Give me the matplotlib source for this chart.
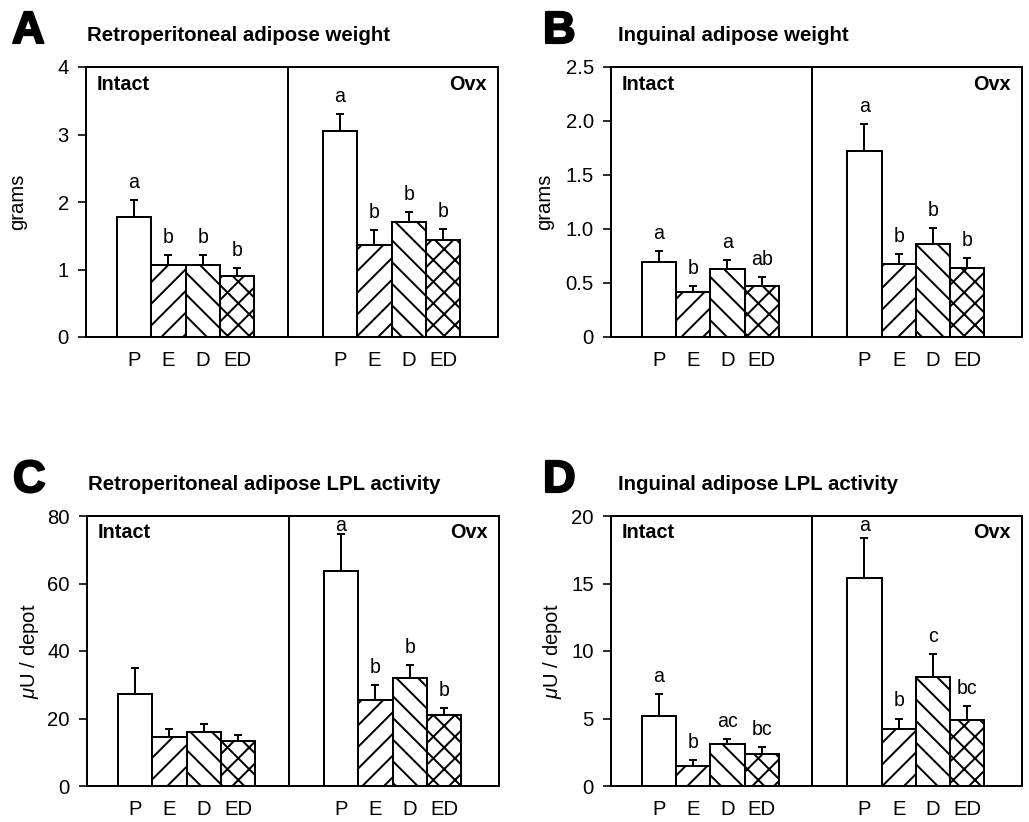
import matplotlib
matplotlib.use("Agg")
import matplotlib.pyplot as plt
import matplotlib.patheffects as pe
import numpy as np

plt.rcParams['font.family'] = ['Liberation Sans', 'DejaVu Sans']
plt.rcParams['mathtext.fontset'] = 'custom'
plt.rcParams['mathtext.rm'] = 'Liberation Sans'
plt.rcParams['mathtext.it'] = 'Liberation Sans:italic'
plt.rcParams['hatch.linewidth'] = 1.1

# ---------------- data ----------------
groups = ["P", "E", "D", "ED"]
panel_letters = ["A", "B", "C", "D"]
titles = ["Retroperitoneal adipose weight", "Inguinal adipose weight",
          "Retroperitoneal adipose LPL activity", "Inguinal adipose LPL activity"]
ylabels = ["grams", "grams", r"$\mu$U / depot", r"$\mu$U / depot"]

a_intact = [1.78, 1.06, 1.07, 0.90]
a_intact_sem = [0.25, 0.16, 0.15, 0.12]
a_ovx = [3.05, 1.36, 1.70, 1.43]
a_ovx_sem = [0.26, 0.22, 0.15, 0.17]
a_intact_sig = ["a", "b", "b", "b"]
a_ovx_sig = ["a", "b", "b", "b"]

b_intact = [0.69, 0.42, 0.63, 0.47]
b_intact_sem = [0.11, 0.05, 0.08, 0.09]
b_ovx = [1.72, 0.68, 0.86, 0.64]
b_ovx_sem = [0.25, 0.09, 0.15, 0.09]
b_intact_sig = ["a", "b", "a", "ab"]
b_ovx_sig = ["a", "b", "b", "b"]

c_intact = [27.2, 14.5, 16.1, 13.4]
c_intact_sem = [7.8, 2.3, 2.3, 1.6]
c_ovx = [63.7, 25.5, 32.1, 21.0]
c_ovx_sem = [11.0, 4.4, 3.7, 2.2]
c_intact_sig = ["", "", "", ""]
c_ovx_sig = ["a", "b", "b", "b"]

d_intact = [5.2, 1.5, 3.1, 2.4]
d_intact_sem = [1.6, 0.4, 0.4, 0.5]
d_ovx = [15.4, 4.2, 8.1, 4.9]
d_ovx_sem = [3.0, 0.8, 1.7, 1.0]
d_intact_sig = ["a", "b", "ac", "bc"]
d_ovx_sig = ["a", "b", "c", "bc"]

yticks_a = [0, 1, 2, 3, 4]
ytick_labels_a = ["0", "1", "2", "3", "4"]
yticks_b = [0, 0.5, 1.0, 1.5, 2.0, 2.5]
ytick_labels_b = ["0", "0.5", "1.0", "1.5", "2.0", "2.5"]
yticks_c = [0, 20, 40, 60, 80]
ytick_labels_c = ["0", "20", "40", "60", "80"]
yticks_d = [0, 5, 10, 15, 20]
ytick_labels_d = ["0", "5", "10", "15", "20"]

panels = [
    (a_intact, a_intact_sem, a_ovx, a_ovx_sem, a_intact_sig, a_ovx_sig, yticks_a, ytick_labels_a),
    (b_intact, b_intact_sem, b_ovx, b_ovx_sem, b_intact_sig, b_ovx_sig, yticks_b, ytick_labels_b),
    (c_intact, c_intact_sem, c_ovx, c_ovx_sem, c_intact_sig, c_ovx_sig, yticks_c, ytick_labels_c),
    (d_intact, d_intact_sem, d_ovx, d_ovx_sem, d_intact_sig, d_ovx_sig, yticks_d, ytick_labels_d),
]

hatches = ["", "//", "\\\\", "xx"]

# ---------------- layout ----------------
W, H, DPI = 1029, 822, 130
fig = plt.figure(figsize=(W / DPI, H / DPI), dpi=DPI)

def px_rect(left, top, right, bottom):
    return [left / W, 1 - bottom / H, (right - left) / W, (bottom - top) / H]

axes_px = [(86, 67, 498, 337), (611, 67, 1022, 337),
           (87, 516, 499, 786), (611, 516, 1022, 786)]
ylabel_off = [68, 66, 57, 58]

intact_x = np.array([1.4, 2.4, 3.4, 4.4])
ovx_x = np.array([7.4, 8.4, 9.4, 10.4])
divider_x = 5.88
LW = 1.1

for i, (ax_px, pdata) in enumerate(zip(axes_px, panels)):
    it, its, ov, ovs, isig, osig, yt, ytl = pdata
    l, t, r, b = ax_px
    ax = fig.add_axes(px_rect(l, t, r, b))
    ymax = yt[-1]
    ax.set_xlim(0, 12)
    ax.set_ylim(0, ymax)
    ax_h = b - t
    ppu = ax_h / ymax  # pixels per data unit

    for xs, vals, sems, sigs in [(intact_x, it, its, isig), (ovx_x, ov, ovs, osig)]:
        ax.bar(xs, vals, width=1.0, color="white", edgecolor="black",
               linewidth=LW, hatch=hatches, zorder=2)
        ax.errorbar(xs, vals, yerr=[np.zeros(len(vals)), sems], fmt="none",
                    ecolor="black", elinewidth=LW, capsize=2.2, capthick=LW, zorder=3)
        for x, v, s, lab in zip(xs, vals, sems, sigs):
            if not lab:
                continue
            ytop = v + s + 12 / ppu
            ytop = min(ytop, ymax - 15 / ppu)
            ax.text(x, ytop, lab, ha="center", va="baseline", fontsize=10.8, zorder=4)

    ax.axvline(divider_x, color="black", linewidth=LW, zorder=1)
    for sp in ax.spines.values():
        sp.set_linewidth(LW)

    ax.set_yticks(yt)
    ax.set_yticklabels(ytl, fontsize=11.2)
    ax.tick_params(axis="y", direction="out", length=4.5, width=0.9, pad=5)
    ax.set_xticks(np.concatenate([intact_x, ovx_x]))
    ax.set_xticklabels(groups + groups, fontsize=11.2)
    ax.tick_params(axis="x", length=0, pad=7.5)

    ax.text(11 / (r - l), 1 - 17 / ax_h, "Intact", transform=ax.transAxes,
            ha="left", va="center", fontsize=11, fontweight="bold")
    ax.text(1 - 11 / (r - l), 1 - 17 / ax_h, "Ovx", transform=ax.transAxes,
            ha="right", va="center", fontsize=11, fontweight="bold")

    ax.text(-ylabel_off[i] / (r - l), 0.5, ylabels[i], transform=ax.transAxes,
            rotation=90, ha="center", va="center", fontsize=11.2)

    # panel letter and title
    fig.text((l - 74 if i % 2 == 0 else l - 68) / W, 1 - (t - 56) / H, panel_letters[i],
             ha="left", va="top", fontsize=25, fontweight="bold",
             path_effects=[pe.withStroke(linewidth=1.2, foreground="black")])
    fig.text((l + (1 if i % 2 == 0 else 7)) / W, 1 - (t - 26) / H, titles[i],
             ha="left", va="baseline", fontsize=11.3, fontweight="bold")

fig.savefig("out.png", dpi=DPI, facecolor="white")
